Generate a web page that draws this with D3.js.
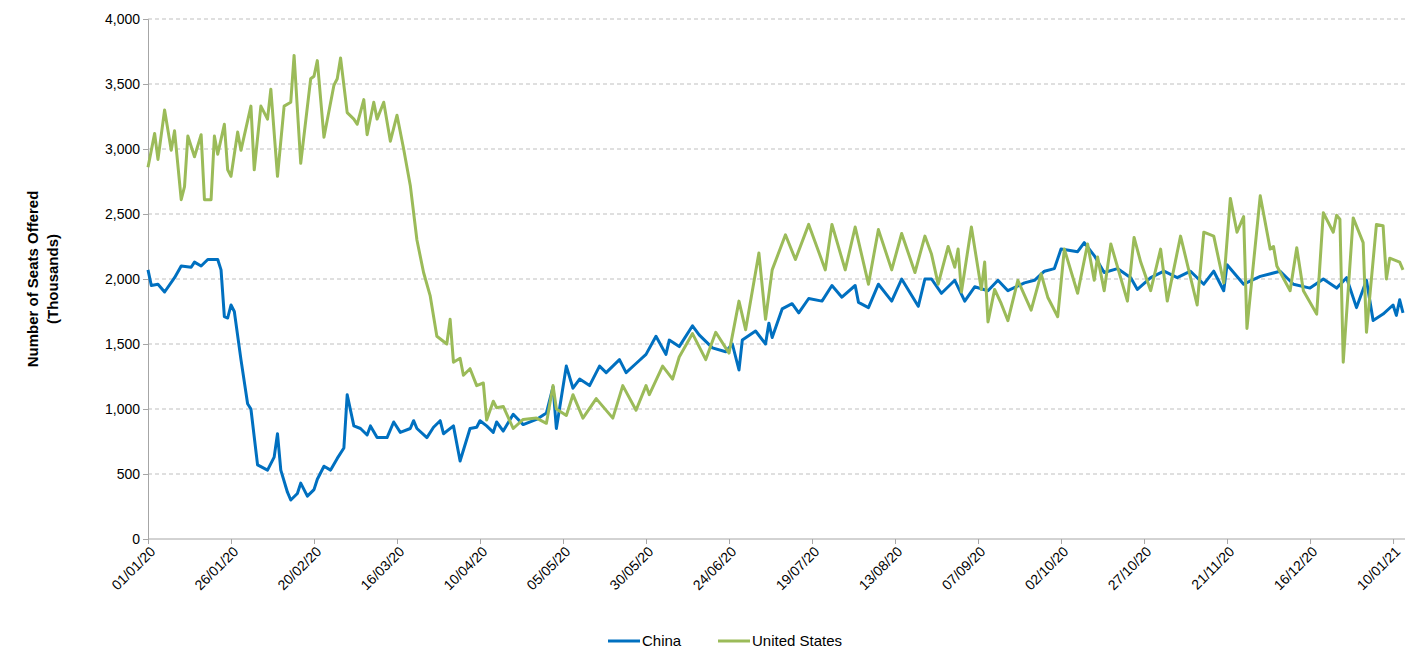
<!DOCTYPE html>
<html><head><meta charset="utf-8">
<script src="https://cdn.jsdelivr.net/npm/d3@7"></script>
<style>body{margin:0;background:#fff}svg{font-family:"Liberation Sans",Arial,sans-serif}</style>
</head><body><svg id="c" width="1420" height="659"></svg>
<script>
// [day since 01/01/20, thousands of seats]
const china=[[0,2070],[1,1950],[3,1960],[5,1900],[8,2010],[10,2100],[13,2090],[14,2130],[16,2100],[18,2150],[21,2150],[22,2070],[23,1710],[24,1700],[25,1800],[26,1750],[28,1380],[30,1040],[31,1000],[33,570],[36,530],[38,630],[39,810],[40,530],[42,360],[43,300],[45,350],[46,430],[48,330],[50,380],[51,460],[53,560],[55,530],[57,620],[59,700],[60,1110],[62,870],[64,850],[66,800],[67,870],[69,780],[72,780],[74,900],[76,820],[79,850],[80,910],[81,850],[84,780],[86,860],[88,910],[89,810],[92,870],[94,600],[97,850],[99,860],[100,910],[102,870],[104,820],[105,900],[107,830],[110,960],[113,880],[117,920],[120,970],[122,1170],[123,850],[126,1330],[128,1160],[130,1230],[133,1180],[136,1330],[138,1280],[142,1380],[144,1280],[147,1350],[150,1420],[153,1560],[156,1420],[157,1530],[160,1480],[164,1640],[166,1570],[170,1470],[174,1440],[176,1500],[178,1300],[179,1530],[183,1600],[186,1500],[187,1660],[188,1550],[191,1770],[194,1810],[196,1740],[199,1850],[203,1830],[206,1950],[209,1860],[213,1950],[214,1820],[217,1780],[220,1960],[224,1830],[227,2000],[232,1790],[234,2000],[236,2000],[239,1890],[243,1990],[246,1830],[249,1940],[253,1910],[256,1990],[259,1910],[264,1970],[267,1990],[270,2060],[273,2080],[275,2230],[280,2210],[282,2280],[285,2180],[288,2050],[292,2080],[296,2010],[298,1920],[302,2010],[306,2060],[310,2010],[314,2060],[318,1960],[321,2060],[324,1910],[325,2110],[330,1960],[335,2020],[341,2060],[345,1960],[350,1930],[354,2000],[358,1930],[361,2010],[364,1780],[367,1990],[369,1680],[372,1730],[375,1800],[376,1720],[377,1840],[378,1740]];
const unitedStates=[[0,2860],[2,3120],[3,2920],[5,3300],[7,2990],[8,3140],[10,2610],[11,2710],[12,3100],[14,2940],[16,3110],[17,2610],[19,2610],[20,3100],[21,2960],[23,3190],[24,2840],[25,2790],[27,3130],[28,2990],[31,3330],[32,2840],[34,3330],[36,3230],[37,3460],[39,2790],[41,3330],[43,3360],[44,3720],[46,2890],[49,3540],[50,3560],[51,3680],[53,3090],[56,3490],[57,3540],[58,3700],[60,3280],[62,3230],[63,3190],[65,3380],[66,3110],[68,3360],[69,3230],[71,3360],[73,3060],[75,3260],[77,3000],[79,2720],[81,2300],[83,2050],[85,1870],[87,1560],[90,1500],[91,1690],[92,1360],[94,1390],[95,1260],[97,1310],[99,1180],[101,1200],[102,915],[104,1060],[105,1010],[107,1020],[110,850],[113,920],[117,930],[120,890],[122,1180],[123,1000],[126,950],[128,1110],[131,930],[135,1080],[140,930],[143,1180],[147,990],[150,1180],[151,1110],[155,1330],[158,1230],[160,1400],[164,1580],[168,1380],[171,1590],[175,1430],[178,1830],[180,1610],[184,2200],[186,1690],[188,2070],[192,2340],[195,2150],[199,2420],[204,2070],[206,2420],[210,2070],[213,2400],[217,1960],[220,2380],[224,2070],[227,2350],[231,2050],[234,2330],[236,2190],[238,1960],[241,2250],[243,2090],[244,2230],[245,1900],[248,2400],[251,1920],[252,2130],[253,1670],[255,1920],[257,1810],[259,1680],[262,1990],[266,1760],[269,2040],[271,1860],[274,1710],[276,2230],[280,1890],[283,2270],[285,1990],[286,2170],[288,1910],[290,2270],[295,1830],[297,2320],[299,2130],[302,1910],[305,2230],[307,1830],[311,2330],[316,1800],[318,2360],[321,2330],[324,1970],[326,2620],[328,2360],[330,2480],[331,1620],[335,2640],[338,2230],[339,2250],[340,2100],[344,1910],[346,2240],[348,1910],[352,1730],[354,2510],[357,2360],[358,2490],[359,2460],[360,1360],[363,2470],[366,2280],[367,1590],[370,2420],[372,2410],[373,2000],[374,2160],[377,2130],[378,2070]];
const xTickLabels=["01/01/20","26/01/20","20/02/20","16/03/20","10/04/20","05/05/20","30/05/20","24/06/20","19/07/20","13/08/20","07/09/20","02/10/20","27/10/20","21/11/20","16/12/20","10/01/21"];
const xTickDays=[0,25,50,75,100,125,150,175,200,225,250,275,300,325,350,375];
const yTicks=[0,500,1000,1500,2000,2500,3000,3500,4000];
const seriesNames=["China","United States"];
const colors=["#0070C0","#9BBB59"];

const svg=d3.select("#c");
const x=d3.scaleLinear().domain([0,378]).range([148,1403]);
const y=d3.scaleLinear().domain([0,4000]).range([539,19]);

svg.append("g").selectAll("line").data(yTicks.slice(1)).join("line")
 .attr("x1",148).attr("x2",1405).attr("y1",d=>y(d)).attr("y2",d=>y(d))
 .attr("stroke","#bfbfbf").attr("stroke-dasharray","4,3");

const ya=svg.append("g").attr("transform","translate(148,0)")
 .call(d3.axisLeft(y).tickValues(yTicks).tickFormat(d3.format(",")).tickSize(5));
ya.select(".domain").attr("stroke","#a6a6a6");
ya.selectAll("line").attr("stroke","#a6a6a6");
ya.selectAll("text").attr("font-size",14).attr("fill","#000");

const xa=svg.append("g").attr("transform","translate(0,539)")
 .call(d3.axisBottom(x).tickValues(xTickDays).tickFormat((d,i)=>xTickLabels[i]).tickSize(5).tickSizeOuter(0));
xa.select(".domain").attr("stroke","#a6a6a6").attr("d","M148,0H1405");
xa.selectAll("line").attr("stroke","#a6a6a6");
xa.selectAll("text").attr("font-size",14).attr("fill","#000")
 .attr("text-anchor","end").attr("transform","rotate(-45)").attr("dx","-0.3em").attr("dy","0.5em");

const line=d3.line().x(d=>x(d[0])).y(d=>y(d[1]));
[china,unitedStates].forEach((s,i)=>{
 svg.append("path").datum(s).attr("d",line).attr("fill","none")
  .attr("stroke",colors[i]).attr("stroke-width",3).attr("stroke-linejoin","round");
});

const yl=svg.append("text").attr("transform","translate(38,279) rotate(-90)")
 .attr("text-anchor","middle").attr("font-size",15).attr("font-weight","bold");
yl.append("tspan").attr("x",0).attr("dy",0).text("Number of Seats Offered");
yl.append("tspan").attr("x",0).attr("dy",20).text("(Thousands)");

const lg=svg.append("g").attr("transform","translate(608,641)");
const lx=[0,110];
seriesNames.forEach((n,i)=>{
 lg.append("line").attr("x1",lx[i]).attr("x2",lx[i]+32).attr("stroke",colors[i]).attr("stroke-width",3);
 lg.append("text").attr("x",lx[i]+34).attr("y",5).attr("font-size",15).text(n);
});
</script></body></html>
